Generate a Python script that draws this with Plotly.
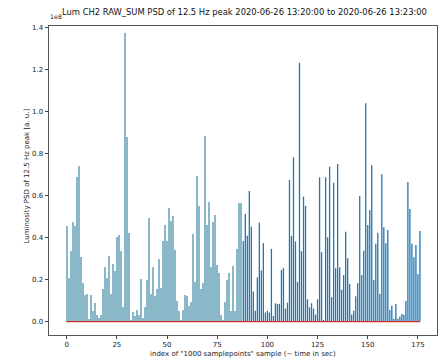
import plotly.graph_objects as go

# PSD values (units of 1e8), one per "1000 samplepoints" sample index 0..176
psd = [
    0.457, 0.206, 0.336, 0.474, 0.455, 0.690, 0.741, 0.309, 0.182, 0.125,
    0.132, 0.013, 0.127, 0.048, 0.090, 0.033, 0.017, 0.033, 0.157, 0.258,
    0.206, 0.312, 0.132, 0.273, 0.243, 0.404, 0.412, 0.336, 0.068, 1.375,
    0.877, 0.423, 0.003, 0.044, 0.027, 0.055, 0.033, 0.203, 0.019, 0.071,
    0.198, 0.495, 0.132, 0.258, 0.124, 0.155, 0.298, 0.159, 0.385, 0.460,
    0.384, 0.539, 0.479, 0.503, 0.341, 0.098, 0.051, 0.008, 0.055, 0.125,
    0.122, 0.075, 0.094, 0.415, 0.190, 0.693, 0.550, 0.154, 0.182, 0.883,
    0.460, 0.569, 0.258, 0.474, 0.509, 0.271, 0.230, 0.030, 0.008, 0.094,
    0.198, 0.233, 0.052, 0.265, 0.052, 0.344, 0.563, 0.563,
    # stems section
    0.384, 0.512, 0.408, 0.622, 0.452, 0.143, 0.052, 0.210, 0.471, 0.243,
    0.373, 0.043, 0.051, 0.043, 0.346, 0.027, 0.087, 0.084, 0.084, 0.246,
    0.254, 0.062, 0.090, 0.674, 0.408, 0.782, 0.381, 0.189, 1.232, 0.335,
    0.595, 0.550, 0.106, 0.068, 0.087, 0.062, 0.033, 0.106, 0.687, 0.330,
    0.008, 0.687, 0.401, 0.737, 0.116, 0.661, 0.254, 0.750, 0.258, 0.151,
    0.222, 0.427, 0.301, 0.179, 0.033, 0.052, 0.120, 0.182, 0.598, 0.222,
    0.338, 1.039, 0.460, 0.531, 0.744, 0.198, 0.370, 0.423, 0.132, 0.701,
    0.449, 0.373, 0.436, 0.055, 0.076, 0.013, 0.084, 0.013, 0.024, 0.036,
    0.032, 0.098, 0.664, 0.536, 0.370, 0.306, 0.365, 0.225, 0.431,
]
idx = list(range(len(psd)))
split = 88  # first index drawn as stem instead of filled bar

x_ticks = [0, 25, 50, 75, 100, 125, 150, 175]
y_ticks = [0.0, 0.2, 0.4, 0.6, 0.8, 1.0, 1.2, 1.4]

title_text = "Lum CH2 RAW_SUM PSD of 12.5 Hz peak 2020-06-26 13:20:00 to 2020-06-26 13:23:00"
xlabel = 'index of "1000 samplepoints" sample (~ time in sec)'
ylabel = "Luminosity PSD of 12.5 Hz peak [a. u.]"

fig = go.Figure()

# light filled bars for first part
fig.add_trace(go.Bar(
    x=idx[:split], y=psd[:split], width=1.0,
    marker=dict(color="#8bb8c9", line=dict(width=0)),
    showlegend=False,
))

# stems for the rest
sx, sy = [], []
for i, v in zip(idx[split:], psd[split:]):
    sx += [i, i, None]
    sy += [0, v, None]
fig.add_trace(go.Scatter(
    x=sx, y=sy, mode="lines",
    line=dict(color="#1f77b4", width=1.3),
    showlegend=False, hoverinfo="skip",
))

# red baseline
fig.add_trace(go.Scatter(
    x=[idx[0], idx[-1]], y=[0, 0], mode="lines",
    line=dict(color="#d62728", width=1.2),
    showlegend=False, hoverinfo="skip",
))

font = dict(family="DejaVu Sans", size=7, color="#222")

fig.update_layout(
    width=441, height=358,
    margin=dict(l=49, r=4, t=26, b=23, pad=0, autoexpand=False),
    paper_bgcolor="white", plot_bgcolor="white",
    font=font,
    bargap=0,
    xaxis=dict(
        range=[-8.8, 184.5], tickvals=x_ticks, ticks="outside", ticklen=3,
        tickwidth=0.8, tickcolor="#444", showline=True, linecolor="#555",
        linewidth=1, mirror=True, showgrid=False, zeroline=False,
        automargin=False,
        tickfont=dict(family="DejaVu Sans", size=7, color="#222"),
    ),
    yaxis=dict(
        range=[-0.064, 1.407], tickvals=y_ticks, tickformat=".1f",
        ticks="outside", ticklen=3.5, tickwidth=0.8, tickcolor="#444",
        showline=True, linecolor="#555", linewidth=1, mirror=True,
        showgrid=False, zeroline=False, automargin=False,
        tickfont=dict(family="DejaVu Sans", size=7, color="#222"),
    ),
    annotations=[
        dict(text=title_text, xref="paper", yref="paper", x=0.504, y=1.044,
             xanchor="center", yanchor="middle", showarrow=False,
             font=dict(family="DejaVu Sans", size=8.4, color="#111")),
        dict(text="1e8", xref="paper", yref="paper", x=-0.003, y=1.031,
             xanchor="left", yanchor="middle", showarrow=False,
             font=dict(family="DejaVu Sans", size=6.3, color="#222")),
        dict(text=xlabel, xref="paper", yref="paper", x=0.5, y=-0.0605,
             xanchor="center", yanchor="middle", showarrow=False,
             font=dict(family="DejaVu Sans", size=7, color="#222")),
        dict(text=ylabel, xref="paper", yref="paper", x=-0.0575, y=0.515,
             xanchor="center", yanchor="middle", showarrow=False, textangle=-90,
             font=dict(family="DejaVu Sans", size=7, color="#222")),
    ],
)

fig.write_html(
    "out.html",
    config={"displayModeBar": False},
    post_script="document.body.style.margin='0';document.body.style.padding='0';",
)
